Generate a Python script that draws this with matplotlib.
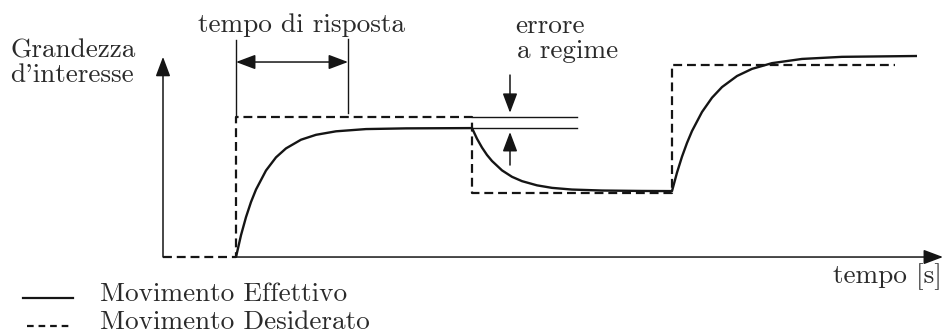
import matplotlib
matplotlib.use("Agg")
import matplotlib.pyplot as plt

# ---- data (schematic step responses) ----
# desired (reference) signal: piecewise constant
desired_t = [0.0, 7.3, 7.3, 30.9, 30.9, 50.9, 50.9, 73.2]
desired_y = [0.0, 0.0, 1.0, 1.0, 0.46, 0.46, 1.37, 1.37]

actual_t = [7.3, 7.8, 8.3, 8.8, 9.3, 10.3, 11.3, 12.3, 13.8, 15.3, 17.3, 20.3, 24.3, 30.9,
            31.4, 31.9, 32.4, 32.9, 33.9, 34.9, 35.9, 37.4, 38.9, 40.9, 43.9, 47.9, 50.9,
            51.4, 51.9, 52.4, 52.9, 53.9, 54.9, 55.9, 57.4, 58.9, 60.9, 63.9, 67.9, 75.4]
actual_y = [0.0, 0.156, 0.285, 0.393, 0.482, 0.618, 0.712, 0.776, 0.838, 0.873, 0.898, 0.914, 0.919, 0.921,
            0.845, 0.782, 0.729, 0.686, 0.619, 0.573, 0.542, 0.512, 0.494, 0.482, 0.475, 0.472, 0.471,
            0.603, 0.717, 0.815, 0.900, 1.036, 1.138, 1.214, 1.293, 1.344, 1.385, 1.415, 1.430, 1.436]

# annotations
resp_t0, resp_t1 = 7.3, 18.5          # response time interval
err_levels = [1.0, 0.921]             # steady-state error band
err_t0, err_t1 = 30.9, 41.4
err_arrow_t = 34.7

FONT = "cmr10"
TXT = "#2a2a2a"
LINE = "#151515"

fig = plt.figure(figsize=(9.44, 3.35), dpi=100)
ax = fig.add_axes([0, 0, 1, 1])
ax.set_xlim(-16.3, 78.1)
ax.set_ylim(-0.557, 1.836)
ax.axis("off")

# choose font size so that the legend text has the reference width (~272 px)
renderer = fig.canvas.get_renderer()
probe = fig.text(0, 0, "Movimento Desiderato", fontfamily=FONT, fontsize=10)
w10 = probe.get_window_extent(renderer).width
probe.remove()
FS = 10 * 270.0 / w10

HEAD = "head_length=0.85,head_width=0.32"
arrow_kw = dict(arrowstyle="-|>," + HEAD, color=LINE, lw=1.1,
                shrinkA=0, shrinkB=0, mutation_scale=14)

# axes arrows
ax.annotate("", xy=(0, 1.43), xytext=(0, 0), arrowprops=arrow_kw)
ax.annotate("", xy=(78.0, 0), xytext=(7.3, 0), arrowprops=arrow_kw)

# signals
ax.plot(desired_t, desired_y, color=LINE, lw=1.6, linestyle=(0, (4, 2.2)))
ax.plot(actual_t, actual_y, color=LINE, lw=1.7, solid_capstyle="butt")

# response time marks
ax.plot([resp_t0, resp_t0], [1.0, 1.55], color=LINE, lw=1.0)
ax.plot([resp_t1, resp_t1], [1.03, 1.56], color=LINE, lw=1.0)
ax.annotate("", xy=(resp_t1, 1.393), xytext=(resp_t0, 1.393),
            arrowprops=dict(arrowstyle="<|-|>," + HEAD, color=LINE,
                            lw=1.1, shrinkA=0, shrinkB=0, mutation_scale=14))

# steady-state error marks
for lv in err_levels:
    ax.plot([err_t0, err_t1], [lv, lv], color=LINE, lw=1.0)
ax.annotate("", xy=(err_arrow_t, 1.03), xytext=(err_arrow_t, 1.30), arrowprops=arrow_kw)
ax.annotate("", xy=(err_arrow_t, 0.893), xytext=(err_arrow_t, 0.657), arrowprops=arrow_kw)

# texts (pixel layout)
def px(x, y):
    return x / 944, 1 - y / 335

tkw = dict(fontfamily=FONT, fontsize=FS, color=TXT)
fig.text(*px(10, 57), "Grandezza", va="baseline", ha="left", **tkw)
fig.text(*px(10, 82), "d'interesse", va="baseline", ha="left", **tkw)
fig.text(*px(198, 32), "tempo di risposta", va="baseline", ha="left", **tkw)
fig.text(*px(515, 33), "errore", va="baseline", ha="left", **tkw)
fig.text(*px(517, 58), "a regime", va="baseline", ha="left", **tkw)
fig.text(*px(942, 283), "tempo [s]", va="baseline", ha="right", **tkw)

# legend
fig.add_artist(plt.Line2D([23 / 944, 73 / 944], [1 - 298 / 335] * 2, color=LINE, lw=1.6,
                          transform=fig.transFigure))
fig.add_artist(plt.Line2D([27 / 944, 70 / 944], [1 - 326 / 335] * 2, color=LINE, lw=1.6,
                          linestyle=(0, (3, 2.2)), transform=fig.transFigure))
fig.text(*px(100, 301), "Movimento Effettivo", va="baseline", ha="left", **tkw)
fig.text(*px(100, 329), "Movimento Desiderato", va="baseline", ha="left", **tkw)

fig.savefig("out.png", dpi=100, facecolor="white")
